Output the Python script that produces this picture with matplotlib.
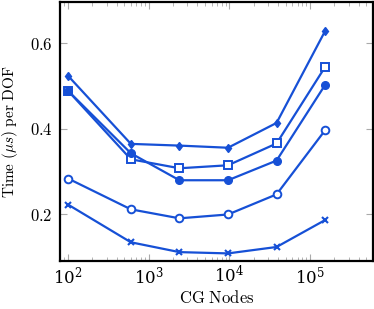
import matplotlib
matplotlib.use("Agg")
import matplotlib.pyplot as plt
from matplotlib.ticker import FixedLocator, FuncFormatter, LogLocator, NullFormatter

plt.rcParams['mathtext.fontset'] = 'cm'
plt.rcParams['font.family'] = ['DejaVu Serif']

nodes = [100, 600, 2400, 9600, 38400, 153600]
s_diamond = [0.524, 0.365, 0.361, 0.356, 0.414, 0.629]
s_square = [0.489, 0.329, 0.308, 0.315, 0.366, 0.545]
s_fcircle = [0.489, 0.343, 0.280, 0.280, 0.326, 0.503]
s_ocircle = [0.284, 0.212, 0.191, 0.200, 0.247, 0.397]
s_cross = [0.223, 0.135, 0.112, 0.109, 0.124, 0.187]
yticks = [0.2, 0.4, 0.6]

col = '#1650d6'
fig = plt.figure(figsize=(3.74, 3.09), dpi=100)
ax = fig.add_axes([0.160, 0.155, 0.837, 0.839])

lw = 1.6
ax.plot(nodes, s_diamond, color=col, lw=lw, marker='d', ms=4.5, mfc=col, mec=col)
ax.plot(nodes, s_square, color=col, lw=lw, marker='s', ms=5.5, mfc='white', mec=col, mew=1.4)
ax.plot(nodes, s_fcircle, color=col, lw=lw, marker='o', ms=5.5, mfc=col, mec=col)
ax.plot(nodes, s_ocircle, color=col, lw=lw, marker='o', ms=5.5, mfc='white', mec=col, mew=1.4)
ax.plot(nodes, s_cross, color=col, lw=lw, marker='x', ms=4, mec=col, mew=1.5)

ax.set_xscale('log')
ax.set_xlim(79, 6.0e5)
ax.set_ylim(0.091, 0.697)
ax.yaxis.set_major_locator(FixedLocator(yticks))
ax.yaxis.set_major_formatter(FuncFormatter(lambda v, p: r'$%.1f$' % v))
ax.xaxis.set_major_locator(LogLocator(base=10))
ax.xaxis.set_minor_locator(LogLocator(base=10, subs=range(2, 10)))
ax.xaxis.set_minor_formatter(NullFormatter())

for s in ax.spines.values():
    s.set_linewidth(1.6)
    s.set_color('black')

ax.tick_params(axis='both', which='both', direction='in', top=True, right=True,
               color='#aaaaaa', labelsize=12)
ax.tick_params(axis='both', which='major', length=5, width=0.8)
ax.tick_params(axis='x', which='minor', length=3, width=0.6)
ax.tick_params(axis='x', which='major', pad=3)
ax.tick_params(axis='y', which='major', pad=5)

ax.set_xlabel(r'$\mathrm{CG\ Nodes}$', fontsize=12, labelpad=2)
ax.set_ylabel(r'$\mathrm{Time}\ (\mu s)\ \mathrm{per\ DOF}$', fontsize=11, labelpad=7)

fig.savefig('out.png', dpi=100)
